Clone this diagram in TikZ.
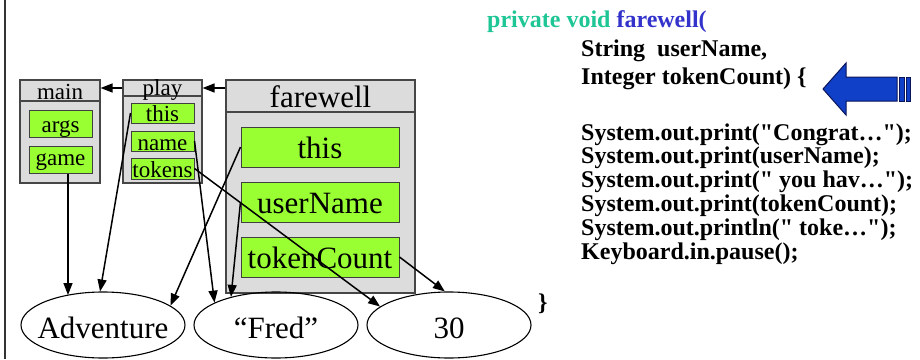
\documentclass[tikz,border=0pt]{standalone}
\usepackage{fontspec}
\setmainfont{Liberation Serif}
% listing face without the TeX quote mapping, so " stays straight
\newfontfamily\listingfont{Liberation Serif}
\usetikzlibrary{arrows.meta,shapes.geometric}
\definecolor{framefill}{RGB}{220,220,220}
\definecolor{frameline}{RGB}{70,70,70}
\definecolor{slotfill}{RGB}{153,255,51}
\definecolor{kwgreen}{RGB}{30,198,150}
\definecolor{kwblue}{RGB}{51,51,204}
\definecolor{callblue}{RGB}{16,64,200}
\definecolor{calledge}{RGB}{10,20,90}

\begin{document}
\begin{tikzpicture}[x=1pt,y=-1pt,
  framebox/.style={draw=frameline, fill=framefill, line width=1.2pt, inner sep=0pt, rectangle},
  slotbox/.style={draw=black!75, fill=slotfill, line width=1pt, inner sep=0pt, rectangle},
  smallfont/.style={font=\fontsize{23}{23}\selectfont},
  bigfont/.style={font=\fontsize{31}{31}\selectfont},
  codeline/.style={font=\fontsize{24}{24}\listingfont\bfseries, anchor=base west, inner sep=0pt},
  valnode/.style={draw=black, line width=1.1pt, ellipse, inner sep=0pt,
    minimum width=164pt, minimum height=66pt, text height=26pt, text depth=0pt,
    font=\fontsize{31}{31}\selectfont},
  refarrow/.style={line width=1.5pt, -{Triangle[length=12pt,width=9pt]}},
]
\useasboundingbox (0,0) rectangle (920,359);

% page margin rule
\draw[line width=1.5pt, black!80] (5,0) -- (5,359);

% frame: main
\node[framebox, minimum width=80pt, minimum height=82pt] (mainB) at (60,142) {};
\node[framebox, smallfont, minimum width=80pt, text height=19pt, text depth=2pt] (mainH) at (60,90.5) {main};
\node[slotbox, smallfont, minimum width=63pt, text height=22pt, text depth=5pt] (args) at (60.5,123.5) {args};
\node[slotbox, smallfont, minimum width=63pt, text height=19pt, text depth=8pt] (game) at (60.5,159.5) {game};

% frame: play
\node[framebox, minimum width=79pt, minimum height=87pt] (playB) at (162.5,139.5) {};
\node[framebox, smallfont, minimum width=79pt, text height=15pt, text depth=1pt] (playH) at (162.5,88) {play};
\node[slotbox, smallfont, minimum width=63pt, text height=18.5pt, text depth=1.5pt] (pthis) at (162.5,113) {this};
\node[slotbox, smallfont, minimum width=63pt, text height=19pt, text depth=1pt] (pname) at (162.5,141) {name};
\node[slotbox, smallfont, minimum width=63pt, text height=19pt, text depth=2pt] (ptok) at (162.5,168.5) {tokens};

% frame: farewell
\node[framebox, minimum width=189pt, minimum height=181pt] (fareB) at (320.5,202.5) {};
\node[framebox, bigfont, minimum width=189pt, text height=27pt, text depth=5pt] (fareH) at (320.5,96) {farewell};
\node[slotbox, bigfont, minimum width=158pt, text height=31pt, text depth=9pt] (fthis) at (320,147) {this};
\node[slotbox, bigfont, minimum width=158pt, text height=31pt, text depth=9pt] (fuser) at (320,202) {userName};
\node[slotbox, bigfont, minimum width=158pt, text height=31pt, text depth=9pt] (ftok) at (320,257) {tokenCount};

% heap values
\node[valnode] (adv) at (103,325) {\makebox[0pt]{Adventure}};
\node[valnode] (fred) at (276,325) {\makebox[0pt]{“Fred”}};
\node[valnode] (thirty) at (449,325) {\makebox[0pt]{30}};

% frame links
\draw[refarrow] (playH.west) -- (mainH.east |- playH.west);
\draw[refarrow] (fareH.west |- playH.west) -- (playH.east);

% references
\draw[refarrow] ([xshift=7.5pt]game.south) -- ([xshift=7.5pt]game.south |- adv.141);
\draw[refarrow] (pthis.west) -- (adv.95);
\draw[refarrow] (pname.east) -- (fred.160);
\draw[refarrow] (ptok.east) -- (thirty.165);
\draw[refarrow] (fthis.west) -- (adv.16);
\draw[refarrow] (fuser.west) -- (fred.148);
\draw[refarrow] (ftok.east) -- (thirty.97);

% source listing
\node[codeline] (c1) at (487,27) {\textcolor{kwgreen}{private void} \textcolor{kwblue}{farewell(}};
\node[codeline] (c2) at (581,56) {String\ \ userName,};
\node[codeline] (c3) at (581,84) {Integer tokenCount) \{};
\node[codeline] (c4) at (581,140) {System.out.print("Congrat…");};
\node[codeline] (c5) at (581,163.8) {System.out.print(userName);};
\node[codeline] (c6) at (581,187.6) {System.out.print(" you hav…");};
\node[codeline] (c7) at (581,211.4) {System.out.print(tokenCount);};
\node[codeline] (c8) at (581,235.2) {System.out.println(" toke…");};
\node[codeline] (c9) at (581,259) {Keyboard.in.pause();};
\node[codeline] (c10) at (538,310) {\}};

% current-line pointer
\draw[fill=callblue, draw=calledge, line width=1pt]
  (823,89) -- (846,63) -- (846,77) -- (897,77) -- (897,101) -- (846,101) -- (846,115) -- cycle;
\draw[fill=callblue, draw=calledge, line width=0.8pt] (899.5,77) rectangle (904.5,101);
\draw[fill=callblue, draw=calledge, line width=0.8pt] (906.5,77) rectangle (910.5,101);
\end{tikzpicture}
\end{document}
